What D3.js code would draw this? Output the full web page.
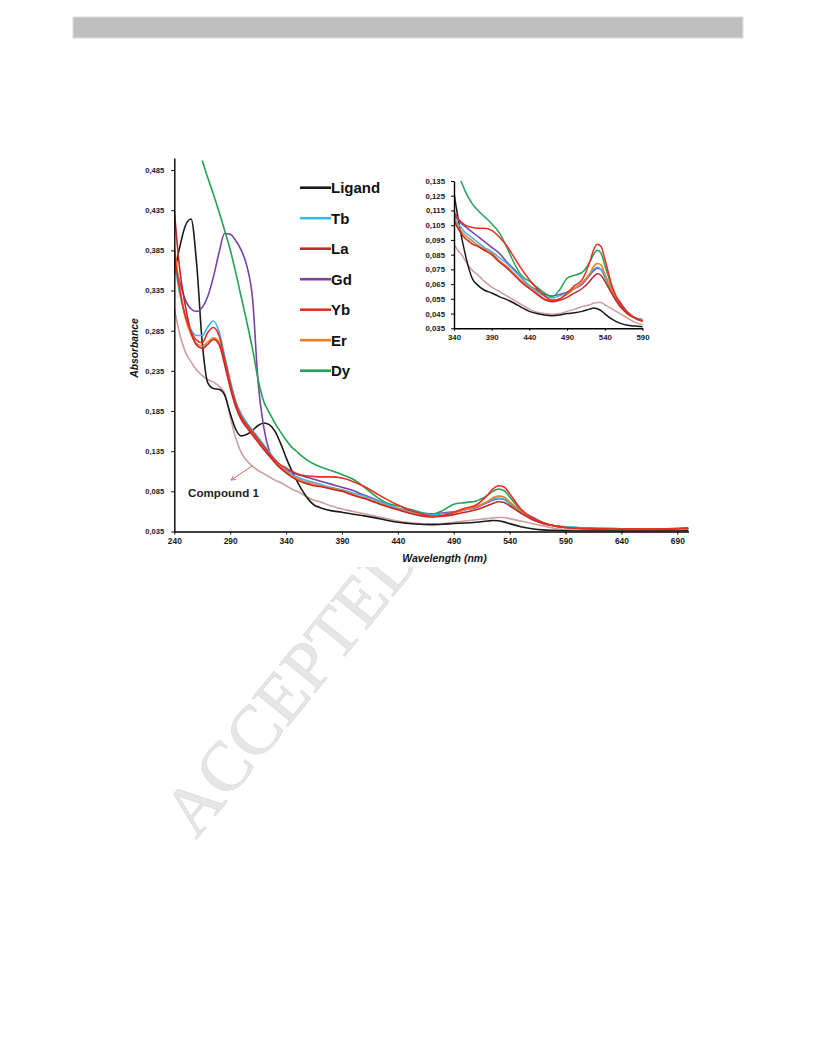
<!DOCTYPE html>
<html><head><meta charset="utf-8">
<script src="https://cdn.jsdelivr.net/npm/d3@7"></script>
<style>body{margin:0;background:#fff}svg{display:block}</style>
</head><body>
<svg id="page" width="816" height="1056"></svg>
<script>
// ---------- DATA ----------
const wavelengths = [240,245,250,255,260,265,270,275,280,285,290,295,300,305,310,315,320,325,330,335,340,345,350,355,360,365,370,380,390,400,410,420,430,440,450,460,470,480,490,500,510,520,525,530,535,540,550,560,570,580,590,600,620,640,660,680,700];

const ligand = [0.355,0.390,0.416,0.424,0.368,0.270,0.220,0.213,0.212,0.205,0.182,0.162,0.154,0.156,0.161,0.167,0.170,0.168,0.160,0.145,0.127,0.111,0.097,0.085,0.075,0.068,0.065,0.061,0.059,0.0565,0.0545,0.052,0.049,0.0465,0.045,0.044,0.0435,0.044,0.045,0.0455,0.0465,0.048,0.0487,0.0483,0.047,0.0448,0.041,0.0385,0.037,0.0365,0.036,0.0357,0.0355,0.0355,0.0355,0.0355,0.036];
const tb = [0.372,0.330,0.302,0.286,0.279,0.279,0.290,0.297,0.284,0.254,0.223,0.197,0.181,0.170,0.161,0.152,0.143,0.134,0.125,0.117,0.111,0.106,0.103,0.100,0.098,0.096,0.094,0.090,0.087,0.083,0.079,0.074,0.069,0.064,0.060,0.057,0.0555,0.057,0.059,0.062,0.066,0.072,0.075,0.0765,0.075,0.0695,0.058,0.051,0.045,0.042,0.041,0.040,0.039,0.0385,0.038,0.038,0.0385];
const la = [0.435,0.360,0.315,0.283,0.267,0.263,0.268,0.274,0.268,0.243,0.214,0.190,0.174,0.164,0.155,0.146,0.137,0.129,0.121,0.114,0.108,0.103,0.099,0.096,0.094,0.092,0.091,0.088,0.085,0.080,0.076,0.071,0.066,0.062,0.058,0.0545,0.053,0.054,0.056,0.059,0.062,0.067,0.070,0.072,0.071,0.067,0.058,0.050,0.045,0.042,0.040,0.039,0.038,0.0378,0.0375,0.0378,0.039];
const gd = [0.372,0.345,0.323,0.312,0.309,0.314,0.328,0.352,0.382,0.406,0.405,0.397,0.385,0.365,0.325,0.220,0.165,0.135,0.121,0.114,0.112,0.109,0.106,0.104,0.102,0.100,0.098,0.094,0.090,0.086,0.080,0.075,0.069,0.064,0.061,0.058,0.057,0.058,0.0595,0.062,0.065,0.071,0.074,0.0757,0.075,0.071,0.060,0.053,0.046,0.042,0.040,0.039,0.0385,0.038,0.038,0.038,0.0385];
const yb = [0.380,0.335,0.303,0.284,0.273,0.270,0.283,0.289,0.279,0.250,0.220,0.195,0.178,0.168,0.159,0.150,0.141,0.132,0.124,0.118,0.114,0.110,0.107,0.105,0.104,0.1035,0.103,0.103,0.1015,0.097,0.091,0.083,0.075,0.068,0.062,0.057,0.054,0.055,0.059,0.064,0.068,0.080,0.088,0.092,0.0905,0.082,0.063,0.052,0.046,0.042,0.040,0.039,0.0385,0.038,0.038,0.0385,0.0395];
const er = [0.390,0.338,0.300,0.280,0.269,0.266,0.271,0.276,0.271,0.246,0.218,0.193,0.176,0.166,0.157,0.148,0.139,0.130,0.122,0.115,0.110,0.104,0.101,0.098,0.096,0.094,0.092,0.089,0.086,0.081,0.077,0.072,0.067,0.063,0.059,0.055,0.054,0.055,0.058,0.062,0.066,0.072,0.077,0.079,0.078,0.072,0.060,0.051,0.045,0.042,0.040,0.039,0.038,0.038,0.038,0.038,0.0385];
const dy = [null,null,null,null,null,0.497,0.475,0.455,0.433,0.410,0.386,0.357,0.326,0.295,0.262,0.224,0.197,0.183,0.170,0.159,0.149,0.140,0.134,0.128,0.123,0.119,0.116,0.111,0.106,0.100,0.090,0.079,0.0705,0.067,0.063,0.059,0.0565,0.061,0.069,0.071,0.073,0.080,0.085,0.088,0.086,0.078,0.062,0.052,0.046,0.042,0.041,0.040,0.039,0.0385,0.038,0.038,0.0385];
const compound1 = [0.313,0.280,0.258,0.246,0.236,0.229,0.224,0.221,0.216,0.207,0.178,0.151,0.133,0.123,0.116,0.111,0.107,0.103,0.099,0.096,0.092,0.088,0.085,0.081,0.077,0.074,0.072,0.067,0.063,0.060,0.057,0.054,0.051,0.048,0.046,0.045,0.0445,0.045,0.0465,0.048,0.0497,0.051,0.052,0.0525,0.0525,0.051,0.048,0.045,0.042,0.039,0.0375,0.037,0.0365,0.0362,0.036,0.036,0.0365];

const legendNames = ["Ligand","Tb","La","Gd","Yb","Er","Dy"];
const legendColors = ["#1a1a1a","#3bb8ea","#c1272d","#7b3fa6","#ee2c24","#ee7f25","#22a352"];
const compoundName = "Compound 1";
const compoundColor = "#cf9d9c";

const mainXTicks = [240,290,340,390,440,490,540,590,640,690];
const mainYTicks = [0.035,0.085,0.135,0.185,0.235,0.285,0.335,0.385,0.435,0.485];
const insetXTicks = [340,390,440,490,540,590];
const insetYTicks = [0.035,0.045,0.055,0.065,0.075,0.085,0.095,0.105,0.115,0.125,0.135];

const xTitle = "Wavelength (nm)";
const yTitle = "Absorbance";
const watermark = "ACCEPTED MANUSCRIPT";

// ---------- DRAW ----------
const svg = d3.select("#page");
const fmt = d => d3.format(".3f")(d).replace(".", ",");
const seriesList = [
  {name:"Compound 1", vals:compound1, color:compoundColor},
  {name:"Ligand", vals:ligand, color:legendColors[0]},
  {name:"Gd", vals:gd, color:legendColors[3]},
  {name:"Dy", vals:dy, color:legendColors[6]},
  {name:"Tb", vals:tb, color:legendColors[1]},
  {name:"Er", vals:er, color:legendColors[5]},
  {name:"La", vals:la, color:legendColors[2]},
  {name:"Yb", vals:yb, color:legendColors[4]}
];

// header bar
svg.append("rect").attr("x",73).attr("y",17).attr("width",670).attr("height",21)
  .attr("fill","#bfbfbf").attr("stroke","#dcdcdc").attr("stroke-width",1);

// watermark
svg.append("text").text(watermark)
  .attr("transform","translate(196,840) rotate(-51)")
  .attr("font-family","'Liberation Serif', serif").attr("font-size",70)
  .attr("fill","#e6e6e6").attr("stroke","#d8d8d8").attr("stroke-width",0.6);

// chart image backdrop (hides the rest of the watermark)
svg.append("rect").attr("x",122).attr("y",140).attr("width",610).attr("height",427).attr("fill","#fff");

// ---- main chart ----
const x = d3.scaleLinear().domain([240,700]).range([174.3,688.5]);
const y = d3.scaleLinear().domain([0.035,0.5]).range([531.5,158]);

svg.append("clipPath").attr("id","mainClip").append("rect")
  .attr("x",174.3).attr("y",158).attr("width",514.2).attr("height",373.5);

const lineMain = vals => d3.line()
  .defined((d,i)=>vals[i]!=null)
  .x((d,i)=>x(wavelengths[i])).y((d,i)=>y(vals[i]))
  .curve(d3.curveMonotoneX)(vals);

const gMain = svg.append("g").attr("clip-path","url(#mainClip)");
seriesList.forEach(s=>{
  gMain.append("path").attr("d",lineMain(s.vals)).attr("fill","none")
    .attr("stroke",s.color).attr("stroke-width",1.6).attr("stroke-linejoin","round");
});

const styleAxis = (g, size) => {
  g.select(".domain").attr("stroke","#000").attr("stroke-width",1.4);
  g.selectAll(".tick line").attr("stroke","#000").attr("stroke-width",1);
  g.selectAll(".tick text").attr("font-family","'Liberation Sans', Arial, sans-serif")
    .attr("font-weight","bold").attr("font-size",size).attr("fill","#1a1a1a");
};

const gx = svg.append("g").attr("transform","translate(0,531.5)")
  .call(d3.axisBottom(x).tickValues(mainXTicks).tickFormat(d3.format("d")).tickSize(3).tickSizeOuter(0).tickPadding(4));
styleAxis(gx, 8.4);
const gy = svg.append("g").attr("transform","translate(174.3,0)")
  .call(d3.axisLeft(y).tickValues(mainYTicks).tickFormat(fmt).tickSize(3).tickSizeOuter(0).tickPadding(7));
styleAxis(gy, 7.6);

svg.append("text").text(xTitle).attr("x",444.5).attr("y",561.5).attr("text-anchor","middle")
  .attr("font-family","'Liberation Sans', Arial, sans-serif").attr("font-weight","bold")
  .attr("font-style","italic").attr("font-size",10.5).attr("fill","#111");
svg.append("text").text(yTitle).attr("transform","translate(138,348) rotate(-90)").attr("text-anchor","middle")
  .attr("font-family","'Liberation Sans', Arial, sans-serif").attr("font-weight","bold")
  .attr("font-style","italic").attr("font-size",10.3).attr("fill","#111");

// legend
const ly = d3.scalePoint().domain(legendNames).range([187.7,370.7]);
const lg = svg.append("g");
legendNames.forEach((n,i)=>{
  lg.append("line").attr("x1",300).attr("x2",331).attr("y1",ly(n)).attr("y2",ly(n))
    .attr("stroke",legendColors[i]).attr("stroke-width",2.6);
  lg.append("text").text(n).attr("x",331).attr("y",ly(n)+5.3)
    .attr("font-family","'Liberation Sans', Arial, sans-serif").attr("font-weight","bold")
    .attr("font-size",15).attr("fill","#111");
});

// compound annotation (data coords)
svg.append("defs").append("marker").attr("id","arr").attr("viewBox","0 0 10 10")
  .attr("refX",9).attr("refY",5).attr("markerWidth",6).attr("markerHeight",6).attr("orient","auto")
  .append("path").attr("d","M1,1 L9,5 L1,9").attr("fill","none").attr("stroke","#d46868").attr("stroke-width",1.4);
svg.append("line").attr("x1",x(309.6)).attr("y1",y(0.1165)).attr("x2",x(290.7)).attr("y2",y(0.099))
  .attr("stroke","#d46868").attr("stroke-width",1).attr("marker-end","url(#arr)");
svg.append("text").text(compoundName).attr("x",x(252.3)).attr("y",y(0.0775))
  .attr("font-family","'Liberation Sans', Arial, sans-serif").attr("font-weight","bold")
  .attr("font-size",11.6).attr("fill","#222");

// ---- inset ----
const xi = d3.scaleLinear().domain([340,590]).range([454,642.5]);
const yi = d3.scaleLinear().domain([0.035,0.135]).range([328.3,181]);
svg.append("clipPath").attr("id","insetClip").append("rect")
  .attr("x",454).attr("y",181).attr("width",188.5).attr("height",147.3);
const lineInset = vals => d3.line()
  .defined((d,i)=>vals[i]!=null && wavelengths[i]>=335 && wavelengths[i]<=600)
  .x((d,i)=>xi(wavelengths[i])).y((d,i)=>yi(vals[i]))
  .curve(d3.curveMonotoneX)(vals);
const gIn = svg.append("g").attr("clip-path","url(#insetClip)");
seriesList.forEach(s=>{
  gIn.append("path").attr("d",lineInset(s.vals)).attr("fill","none")
    .attr("stroke",s.color).attr("stroke-width",1.5).attr("stroke-linejoin","round");
});
const gxi = svg.append("g").attr("transform","translate(0,328.3)")
  .call(d3.axisBottom(xi).tickValues(insetXTicks).tickFormat(d3.format("d")).tickSize(2.5).tickSizeOuter(0).tickPadding(4));
styleAxis(gxi, 7.8);
const gyi = svg.append("g").attr("transform","translate(454,0)")
  .call(d3.axisLeft(yi).tickValues(insetYTicks).tickFormat(fmt).tickSize(3).tickSizeOuter(0).tickPadding(6));
styleAxis(gyi, 7.8);
</script>
</body></html>
